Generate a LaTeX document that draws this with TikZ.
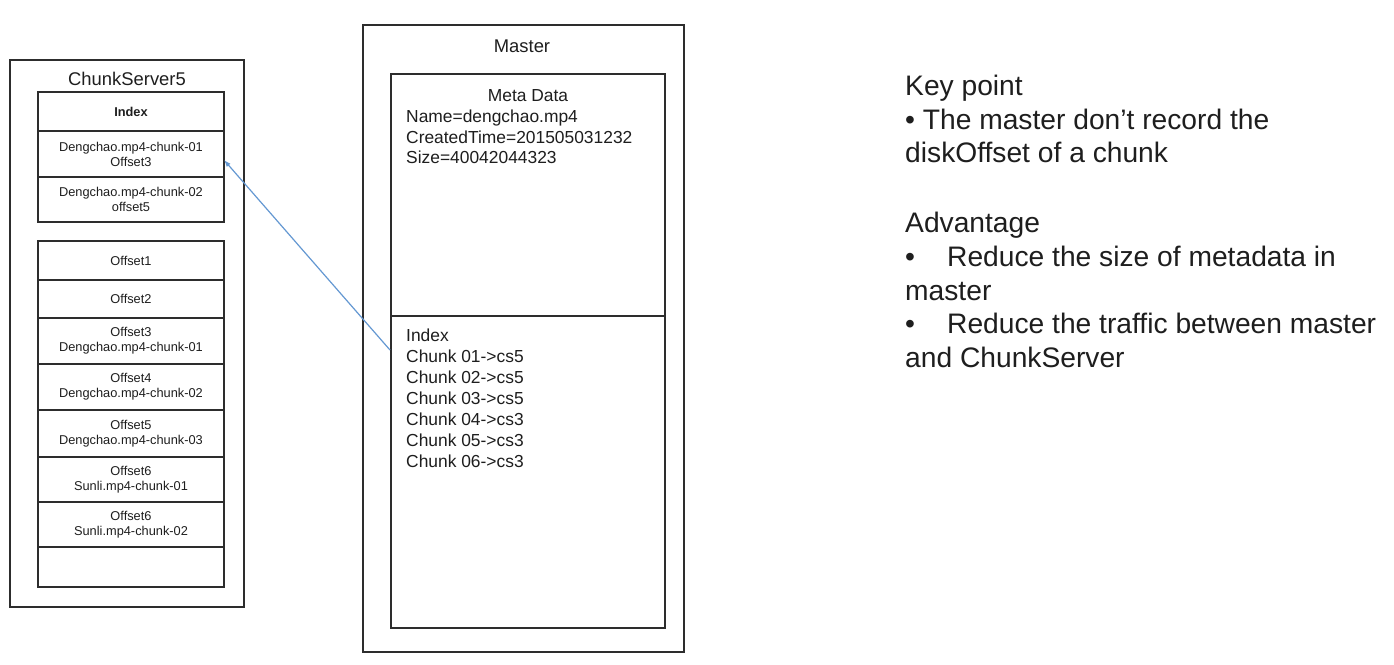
\documentclass[tikz,border=0pt]{standalone}
\usepackage{fontspec}
\setmainfont{Liberation Sans}
\usetikzlibrary{arrows.meta}
\definecolor{txt}{RGB}{30,30,30}
\definecolor{ln}{RGB}{45,45,45}
\definecolor{arr}{RGB}{100,152,210}
\begin{document}
\begin{tikzpicture}[x=1pt,y=-1pt,
  box/.style={draw=ln, line width=1.3pt, inner sep=0pt, outer sep=0pt, anchor=north west},
  cell/.style={box, line width=1.1pt, minimum width=186pt, font=\fontsize{12.8}{15}\selectfont, align=center, text=txt},
  mid/.style={font=\fontsize{17.4}{21}\selectfont, text=txt, inner sep=0pt},
  big/.style={font=\fontsize{18.4}{22}\selectfont, text=txt, inner sep=0pt},
  side/.style={font=\fontsize{28.2}{34}\selectfont, text=txt, inner sep=0pt, anchor=base west},
  link/.style={draw=arr, line width=1.2pt, -{Latex[length=7pt,width=5pt]}}
]
\useasboundingbox (0,0) rectangle (1394,664);
\fill[white] (0,0) rectangle (1394,664);

% ChunkServer5
\node[box, minimum width=234pt, minimum height=547pt] (cs) at (10,60) {};
\node[big, anchor=base] (cstitle) at (127,85) {ChunkServer5};
\node[cell, minimum height=39pt] (cidx) at (38,92) {\bfseries Index};
\node[cell, minimum height=46pt] (c1) at (38,131) {Dengchao.mp4-chunk-01\\Offset3};
\node[cell, minimum height=45pt] (c2) at (38,177) {Dengchao.mp4-chunk-02\\offset5};

\node[cell, minimum height=39pt] (o1) at (38,241) {Offset1};
\node[cell, minimum height=38pt] (o2) at (38,280) {Offset2};
\node[cell, minimum height=46pt] (o3) at (38,318) {Offset3\\Dengchao.mp4-chunk-01};
\node[cell, minimum height=46pt] (o4) at (38,364) {Offset4\\Dengchao.mp4-chunk-02};
\node[cell, minimum height=47pt] (o5) at (38,410) {Offset5\\Dengchao.mp4-chunk-03};
\node[cell, minimum height=45pt] (o6) at (38,457) {Offset6\\Sunli.mp4-chunk-01};
\node[cell, minimum height=45pt] (o7) at (38,502) {Offset6\\Sunli.mp4-chunk-02};
\node[cell, minimum height=40pt] (o8) at (38,547) {};

% Master
\node[box, minimum width=321pt, minimum height=627pt] (master) at (363,25) {};
\node[big, anchor=base] (mtitle) at (522,52) {Master};
\node[box, line width=1.1pt, minimum width=274pt, minimum height=242pt] (meta) at (391,74) {};
\node[box, line width=1.1pt, minimum width=274pt, minimum height=312pt] (mindex) at (391,316) {};

\node[mid, anchor=base] (mdtitle) at (528,101) {Meta Data};
\node[mid, anchor=base west] (md1) at (406,122) {Name=dengchao.mp4};
\node[mid, anchor=base west] (md2) at (406,143) {CreatedTime=201505031232};
\node[mid, anchor=base west] (md3) at (406,163) {Size=40042044323};

\node[mid, anchor=base west] (ix0) at (406,341) {Index};
\node[mid, anchor=base west] (ix1) at (406,362) {Chunk 01->cs5};
\node[mid, anchor=base west] (ix2) at (406,383) {Chunk 02->cs5};
\node[mid, anchor=base west] (ix3) at (406,404) {Chunk 03->cs5};
\node[mid, anchor=base west] (ix4) at (406,425) {Chunk 04->cs3};
\node[mid, anchor=base west] (ix5) at (406,446) {Chunk 05->cs3};
\node[mid, anchor=base west] (ix6) at (406,467) {Chunk 06->cs3};

% arrow
\coordinate (astart) at (390,350);
\draw[link] (astart) -- ([yshift=-6pt]c1.east);

% side text
\node[side] (k1) at (905,95) {Key point};
\node[side] (k2) at (905,129) {• The master don’t record the};
\node[side] (k3) at (905,162) {diskOffset of a chunk};
\node[side] (a1) at (905,232) {Advantage};
\node[side] (a2) at (905,266) {\makebox[42pt][l]{•}Reduce the size of metadata in};
\node[side] (a3) at (905,300) {master};
\node[side] (a4) at (905,333) {\makebox[42pt][l]{•}Reduce the traffic between master};
\node[side] (a5) at (905,367) {and ChunkServer};
\end{tikzpicture}
\end{document}
